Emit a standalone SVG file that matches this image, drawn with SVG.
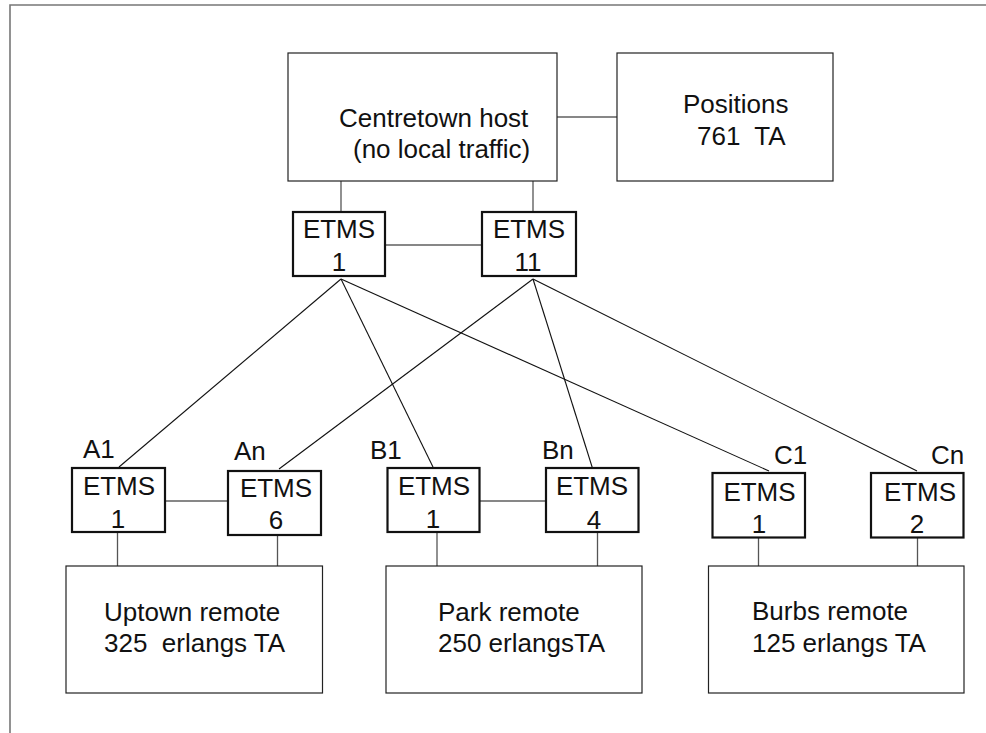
<svg xmlns="http://www.w3.org/2000/svg" width="986" height="733" viewBox="0 0 986 733">
<style>
text { font-family: "Liberation Sans", Arial, sans-serif; font-size: 26px; fill: #111; }
.c { text-anchor: middle; }
.box { fill: #fff; stroke: #222; stroke-width: 1.2; }
.etms { fill: #fff; stroke: #111; stroke-width: 2.2; }
.ln { stroke: #111; stroke-width: 1.1; fill: none; }
.vl { stroke: #555; stroke-width: 1.3; fill: none; }
.frame { stroke: #777; stroke-width: 1.6; fill: none; }
</style>
<rect width="986" height="733" fill="#fff"/>
<path class="frame" d="M10,733 V5 H986"/>
<g id="connectors">
  <line class="ln" x1="557" y1="117" x2="617" y2="117"/>
  <line class="vl" x1="341" y1="181" x2="341" y2="212"/>
  <line class="vl" x1="533" y1="181" x2="533" y2="212"/>
  <line class="ln" x1="385" y1="245" x2="482" y2="245"/>
  <line class="ln" x1="341" y1="279" x2="119" y2="467"/>
  <line class="ln" x1="341" y1="279" x2="433" y2="467"/>
  <line class="ln" x1="341" y1="279" x2="769" y2="471"/>
  <line class="ln" x1="533" y1="279" x2="279" y2="469"/>
  <line class="ln" x1="533" y1="279" x2="594" y2="473"/>
  <line class="ln" x1="533" y1="279" x2="917" y2="471"/>
  <line class="ln" x1="163" y1="501" x2="228" y2="501"/>
  <line class="ln" x1="479.5" y1="501" x2="546" y2="501"/>
  <line class="vl" x1="117.5" y1="532" x2="117.5" y2="566"/>
  <line class="vl" x1="277.5" y1="534" x2="277.5" y2="566"/>
  <line class="vl" x1="437" y1="532" x2="437" y2="566"/>
  <line class="vl" x1="597.5" y1="532" x2="597.5" y2="566"/>
  <line class="vl" x1="758.5" y1="533" x2="758.5" y2="566"/>
  <line class="vl" x1="917.5" y1="533" x2="917.5" y2="566"/>
</g>
<g id="host">
  <rect class="box" x="288" y="53" width="269" height="128"/>
  <text x="339" y="127">Centretown host</text>
  <text x="353" y="158">(no local traffic)</text>
</g>
<g id="positions">
  <rect class="box" x="617" y="53" width="216" height="128"/>
  <text x="683" y="113">Positions</text>
  <text x="697" y="145" xml:space="preserve">761  TA</text>
</g>
<g id="etms-host-1">
  <rect class="etms" x="293" y="212" width="92" height="64"/>
  <text class="c" x="339" y="238">ETMS</text>
  <text class="c" x="339" y="271">1</text>
</g>
<g id="etms-host-11">
  <rect class="etms" x="482" y="212" width="94" height="64"/>
  <text class="c" x="529" y="238">ETMS</text>
  <text class="c" x="528" y="271">11</text>
</g>
<g id="etms-a1">
  <text x="83" y="458">A1</text>
  <rect class="etms" x="72" y="468" width="93" height="64"/>
  <text class="c" x="119" y="495">ETMS</text>
  <text class="c" x="118" y="528">1</text>
</g>
<g id="etms-an">
  <text x="234" y="460">An</text>
  <rect class="etms" x="228" y="471" width="93" height="64"/>
  <text class="c" x="276" y="497">ETMS</text>
  <text class="c" x="276" y="529">6</text>
</g>
<g id="etms-b1">
  <text x="370" y="459">B1</text>
  <rect class="etms" x="387.5" y="468" width="92" height="64"/>
  <text class="c" x="434" y="495">ETMS</text>
  <text class="c" x="433" y="528">1</text>
</g>
<g id="etms-bn">
  <text x="542" y="459">Bn</text>
  <rect class="etms" x="546" y="468" width="92.5" height="64"/>
  <text class="c" x="592" y="495">ETMS</text>
  <text class="c" x="594" y="529">4</text>
</g>
<g id="etms-c1">
  <text x="774" y="464">C1</text>
  <rect class="etms" x="712.5" y="473" width="92.5" height="64.5"/>
  <text class="c" x="759.5" y="501">ETMS</text>
  <text class="c" x="759" y="533">1</text>
</g>
<g id="etms-cn">
  <text x="931" y="464">Cn</text>
  <rect class="etms" x="871" y="473" width="92.5" height="64.5"/>
  <text class="c" x="920" y="501">ETMS</text>
  <text class="c" x="917" y="533">2</text>
</g>
<g id="uptown">
  <rect class="box" x="66" y="566" width="256.5" height="127"/>
  <text x="104" y="621">Uptown remote</text>
  <text x="104" y="652" xml:space="preserve">325  erlangs TA</text>
</g>
<g id="park">
  <rect class="box" x="386" y="566" width="256" height="127"/>
  <text x="438" y="621">Park remote</text>
  <text x="438" y="652">250 erlangsTA</text>
</g>
<g id="burbs">
  <rect class="box" x="708.5" y="566" width="255.5" height="127"/>
  <text x="752" y="620">Burbs remote</text>
  <text x="752" y="652">125 erlangs TA</text>
</g>
</svg>
